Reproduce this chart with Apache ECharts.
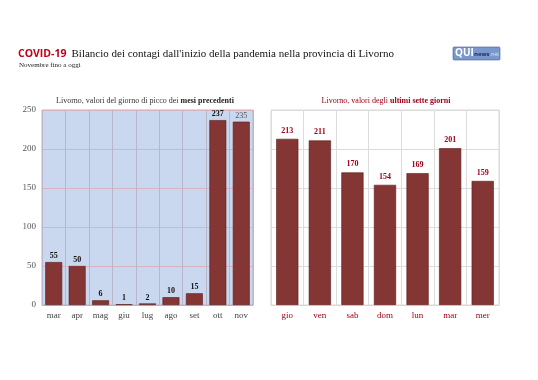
<!DOCTYPE html>
<html><head><meta charset="utf-8">
<script src="https://cdn.jsdelivr.net/npm/echarts@6/dist/echarts.min.js"></script>
<style>html,body{margin:0;padding:0;background:#fff}#c{width:538px;height:380px}</style>
</head><body><div id="c"></div>
<script>
const monthCats = ['mar','apr','mag','giu','lug','ago','set','ott','nov'];
const monthVals = [55,50,6,1,2,10,15,237,235];
const dayCats = ['gio','ven','sab','dom','lun','mar','mer'];
const dayVals = [213,211,170,154,169,201,159];

const serif = '"Liberation Serif", "DejaVu Serif", serif';
const barColor = '#843634';
const chart = echarts.init(document.getElementById('c'));
chart.setOption({
  animation:false,
  backgroundColor:'#ffffff',
  title:[
    {text:'{r|COVID-19} {b|Bilancio dei contagi dall\'inizio della pandemia nella provincia di Livorno}',left:13,top:40,
     textStyle:{fontWeight:'normal',rich:{r:{fontFamily:'"Open Sans", "Noto Sans", sans-serif',fontWeight:'bold',fontSize:10.5,color:'#c0001a'},
                      b:{fontFamily:serif,fontWeight:'normal',fontSize:11,color:'#111'}}}},
    {text:'Novembre fino a oggi',left:14,top:57,textStyle:{fontFamily:serif,fontSize:7,color:'#222',fontWeight:'normal'}},
    {text:'Livorno, valori del giorno di picco dei {b|mesi precedenti}',left:140,top:92,textAlign:'center',
     textStyle:{fontFamily:serif,fontSize:8,color:'#333',fontWeight:'normal',rich:{b:{fontFamily:serif,fontSize:8,fontWeight:'bold',color:'#222'}}}},
    {text:'Livorno, valori degli {b|ultimi sette giorni}',left:381,top:92,textAlign:'center',
     textStyle:{fontFamily:serif,fontSize:8,color:'#a0001a',fontWeight:'normal',rich:{b:{fontFamily:serif,fontSize:8,fontWeight:'bold',color:'#a0001a'}}}}
  ],
  graphic:[
    {type:'rect',shape:{x:453,y:47,width:47,height:13,r:1},style:{fill:'#7b98cc',stroke:'#3c5f9e',lineWidth:0.6}},
    {type:'text',style:{x:455,y:53.5,text:'QUI',fill:'#ffffff',font:'bold 10px "Open Sans", sans-serif',textVerticalAlign:'middle',verticalAlign:'middle'}},
    {type:'text',style:{x:474,y:54,text:'news',fill:'#1b2f66',font:'bold 6px "Open Sans", sans-serif',textVerticalAlign:'middle',verticalAlign:'middle'}},
    {type:'text',style:{x:490,y:54.5,text:'.net',fill:'#dfe7f5',font:'5px "Open Sans", sans-serif',textVerticalAlign:'middle',verticalAlign:'middle'}}
  ],
  grid:[
    {left:42,top:110,width:211,height:195,show:true,backgroundColor:'#c9d7ef',borderColor:'#b9b3c8',borderWidth:1},
    {left:271,top:110,width:228,height:195,show:true,backgroundColor:'#ffffff',borderColor:'#d8d8d8',borderWidth:1}
  ],
  xAxis:[
    {type:'category',gridIndex:0,data:monthCats,axisTick:{show:false},axisLine:{show:true,lineStyle:{color:'#b9b3c8'}},
     axisLabel:{fontFamily:serif,fontSize:9,color:'#444',margin:6},
     splitLine:{show:true,lineStyle:{color:'#b9b6cc',width:1}}},
    {type:'category',gridIndex:1,data:dayCats,axisTick:{show:false},axisLine:{show:true,lineStyle:{color:'#d8d8d8'}},
     axisLabel:{fontFamily:serif,fontSize:9,color:'#a0001a',margin:6},
     splitLine:{show:true,lineStyle:{color:'#dcdcdc',width:1}}}
  ],
  yAxis:[
    {type:'value',gridIndex:0,min:0,max:250,interval:50,axisLine:{show:false},axisTick:{show:false},
     axisLabel:{fontFamily:serif,fontSize:9,color:'#555',margin:6},
     splitLine:{show:true,lineStyle:{color:'#d9b3c3',width:1}}},
    {type:'value',gridIndex:1,min:0,max:250,interval:50,axisLine:{show:false},axisTick:{show:false},
     axisLabel:{show:false},splitLine:{show:true,lineStyle:{color:'#dcdcdc',width:1}}}
  ],
  series:[
    {type:'bar',xAxisIndex:0,yAxisIndex:0,barWidth:'72%',
     data:monthVals.map((v,i)=>({value:v,label:(i===monthVals.length-1)?{fontWeight:'normal',color:'#555'}:{}})),
     itemStyle:{color:barColor,borderColor:'#5e1a18',borderWidth:0.6},
     label:{show:true,position:'top',distance:2,fontFamily:serif,fontSize:8,fontWeight:'bold',color:'#111'}},
    {type:'bar',xAxisIndex:1,yAxisIndex:1,barWidth:'68%',data:dayVals,
     itemStyle:{color:barColor,borderColor:'#5e1a18',borderWidth:0.6},
     label:{show:true,position:'top',distance:4,fontFamily:serif,fontSize:8,fontWeight:'bold',color:'#a0001a'}}
  ]
});
</script></body></html>
